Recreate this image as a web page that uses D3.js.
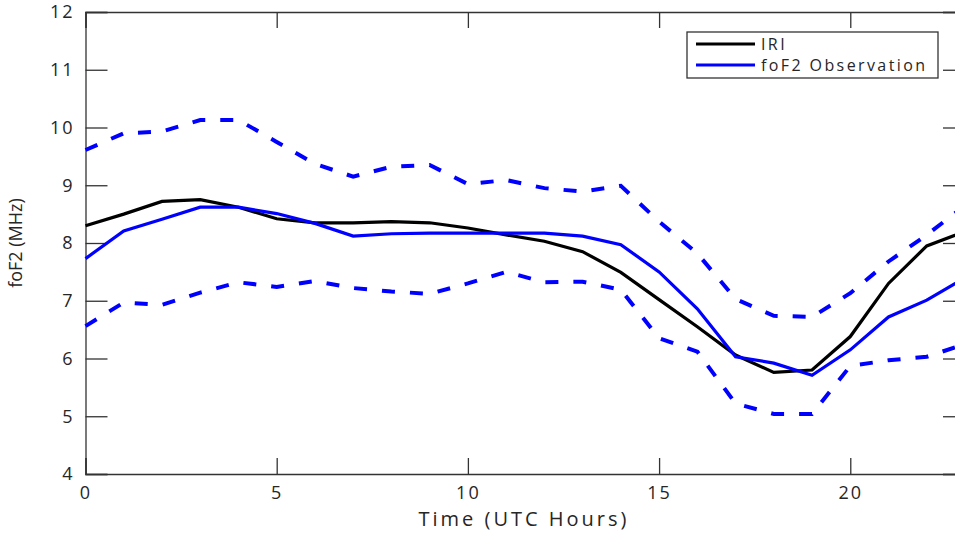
<!DOCTYPE html>
<html>
<head>
<meta charset="utf-8">
<script src="https://cdn.jsdelivr.net/npm/d3@7"></script>
<style>
  body { margin: 0; background: #fff; }
  svg { display: block; overflow: hidden; }
  text { font-family: "Open Sans", sans-serif; fill: #262626; }
</style>
</head>
<body>
<svg id="chart" width="955" height="533"></svg>
<script>
// foF2 by hour (UTC)
const hours = [0, 1, 2, 3, 4, 5, 6, 7, 8, 9, 10, 11, 12, 13, 14, 15, 16, 17, 18, 19, 20, 21, 22, 23];
const iri = [8.30, 8.50, 8.72, 8.75, 8.62, 8.42, 8.35, 8.35, 8.37, 8.35, 8.26, 8.14, 8.03, 7.85, 7.49, 7.02, 6.55, 6.06, 5.76, 5.80, 6.38, 7.30, 7.95, 8.20];
const obs = [7.73, 8.21, 8.41, 8.62, 8.62, 8.51, 8.34, 8.12, 8.16, 8.17, 8.17, 8.17, 8.17, 8.12, 7.97, 7.50, 6.86, 6.03, 5.92, 5.71, 6.15, 6.72, 7.01, 7.40];
const obsUpper = [9.61, 9.90, 9.93, 10.13, 10.13, 9.75, 9.37, 9.15, 9.32, 9.35, 9.02, 9.09, 8.95, 8.89, 8.99, 8.37, 7.82, 7.03, 6.74, 6.72, 7.13, 7.68, 8.14, 8.65];
const obsLower = [6.56, 6.97, 6.93, 7.14, 7.32, 7.24, 7.34, 7.22, 7.16, 7.12, 7.30, 7.50, 7.32, 7.33, 7.19, 6.35, 6.12, 5.22, 5.04, 5.04, 5.87, 5.97, 6.03, 6.25];
const xTicks = [0, 5, 10, 15, 20];
const yTicks = [4, 5, 6, 7, 8, 9, 10, 11, 12];
const legendNames = ["IRI", "foF2 Observation"];

const svg = d3.select("#chart");
// plot box; right edge falls just outside the picture
const plot = { left: 85.5, right: 965, top: 12, bottom: 474 };

const x = d3.scaleLinear().domain([0, 23]).range([plot.left, plot.right]);
const y = d3.scaleLinear().domain([4, 12]).range([plot.bottom, plot.top]);

const axisColor = "#333";

// axes (box style, inward ticks)
const gx = svg.append("g").attr("transform", `translate(0,${plot.bottom})`)
  .call(d3.axisBottom(x).tickValues(xTicks).tickSize(-16).tickPadding(12).tickFormat(d3.format("d")));
const gxTop = svg.append("g").attr("transform", `translate(0,${plot.top})`)
  .call(d3.axisTop(x).tickValues(xTicks).tickSize(-16).tickFormat(""));
const gy = svg.append("g").attr("transform", `translate(${plot.left},0)`)
  .call(d3.axisLeft(y).tickValues(yTicks).tickSize(-22).tickPadding(11).tickFormat(d3.format("d")));
const gyRight = svg.append("g").attr("transform", `translate(${plot.right},0)`)
  .call(d3.axisRight(y).tickValues(yTicks).tickSize(-22).tickFormat(""));

[gx, gxTop, gy, gyRight].forEach(g => {
  g.select(".domain").attr("stroke", axisColor).attr("stroke-width", 1.3);
  g.selectAll(".tick line").attr("stroke", axisColor).attr("stroke-width", 1.3);
  g.selectAll(".tick text").attr("font-size", 18).attr("fill", "#262626")
    .style("letter-spacing", "2px");
});

const line = d3.line().x((d, i) => x(hours[i])).y(d => y(d));

svg.append("path").datum(obsUpper).attr("d", line)
  .attr("fill", "none").attr("stroke", "#0000ff").attr("stroke-width", 4)
  .attr("stroke-dasharray", "13,15");
svg.append("path").datum(obsLower).attr("d", line)
  .attr("fill", "none").attr("stroke", "#0000ff").attr("stroke-width", 4)
  .attr("stroke-dasharray", "13,15");
svg.append("path").datum(iri).attr("d", line)
  .attr("fill", "none").attr("stroke", "#000").attr("stroke-width", 3.2);
svg.append("path").datum(obs).attr("d", line)
  .attr("fill", "none").attr("stroke", "#0000ff").attr("stroke-width", 3.2);

// axis labels
svg.append("text")
  .attr("x", 524).attr("y", 526)
  .attr("text-anchor", "middle").attr("font-size", 20)
  .style("letter-spacing", "3px")
  .text("Time (UTC Hours)");

svg.append("text")
  .attr("transform", "translate(22,243) rotate(-90)")
  .attr("text-anchor", "middle").attr("font-size", 18)
  .text("foF2 (MHz)");

// legend
const legend = svg.append("g");
legend.append("rect")
  .attr("x", 687).attr("y", 32).attr("width", 251).attr("height", 46)
  .attr("fill", "#fff").attr("stroke", axisColor).attr("stroke-width", 1.3);
const legendColors = ["#000", "#0000ff"];
legendNames.forEach((name, i) => {
  const ly = 44 + i * 21;
  legend.append("line")
    .attr("x1", 696).attr("x2", 755).attr("y1", ly).attr("y2", ly)
    .attr("stroke", legendColors[i]).attr("stroke-width", 3.2);
  legend.append("text")
    .attr("x", 761).attr("y", ly).attr("dy", "0.35em")
    .attr("font-size", 16).style("letter-spacing", "2.4px")
    .text(name);
});
</script>
</body>
</html>
